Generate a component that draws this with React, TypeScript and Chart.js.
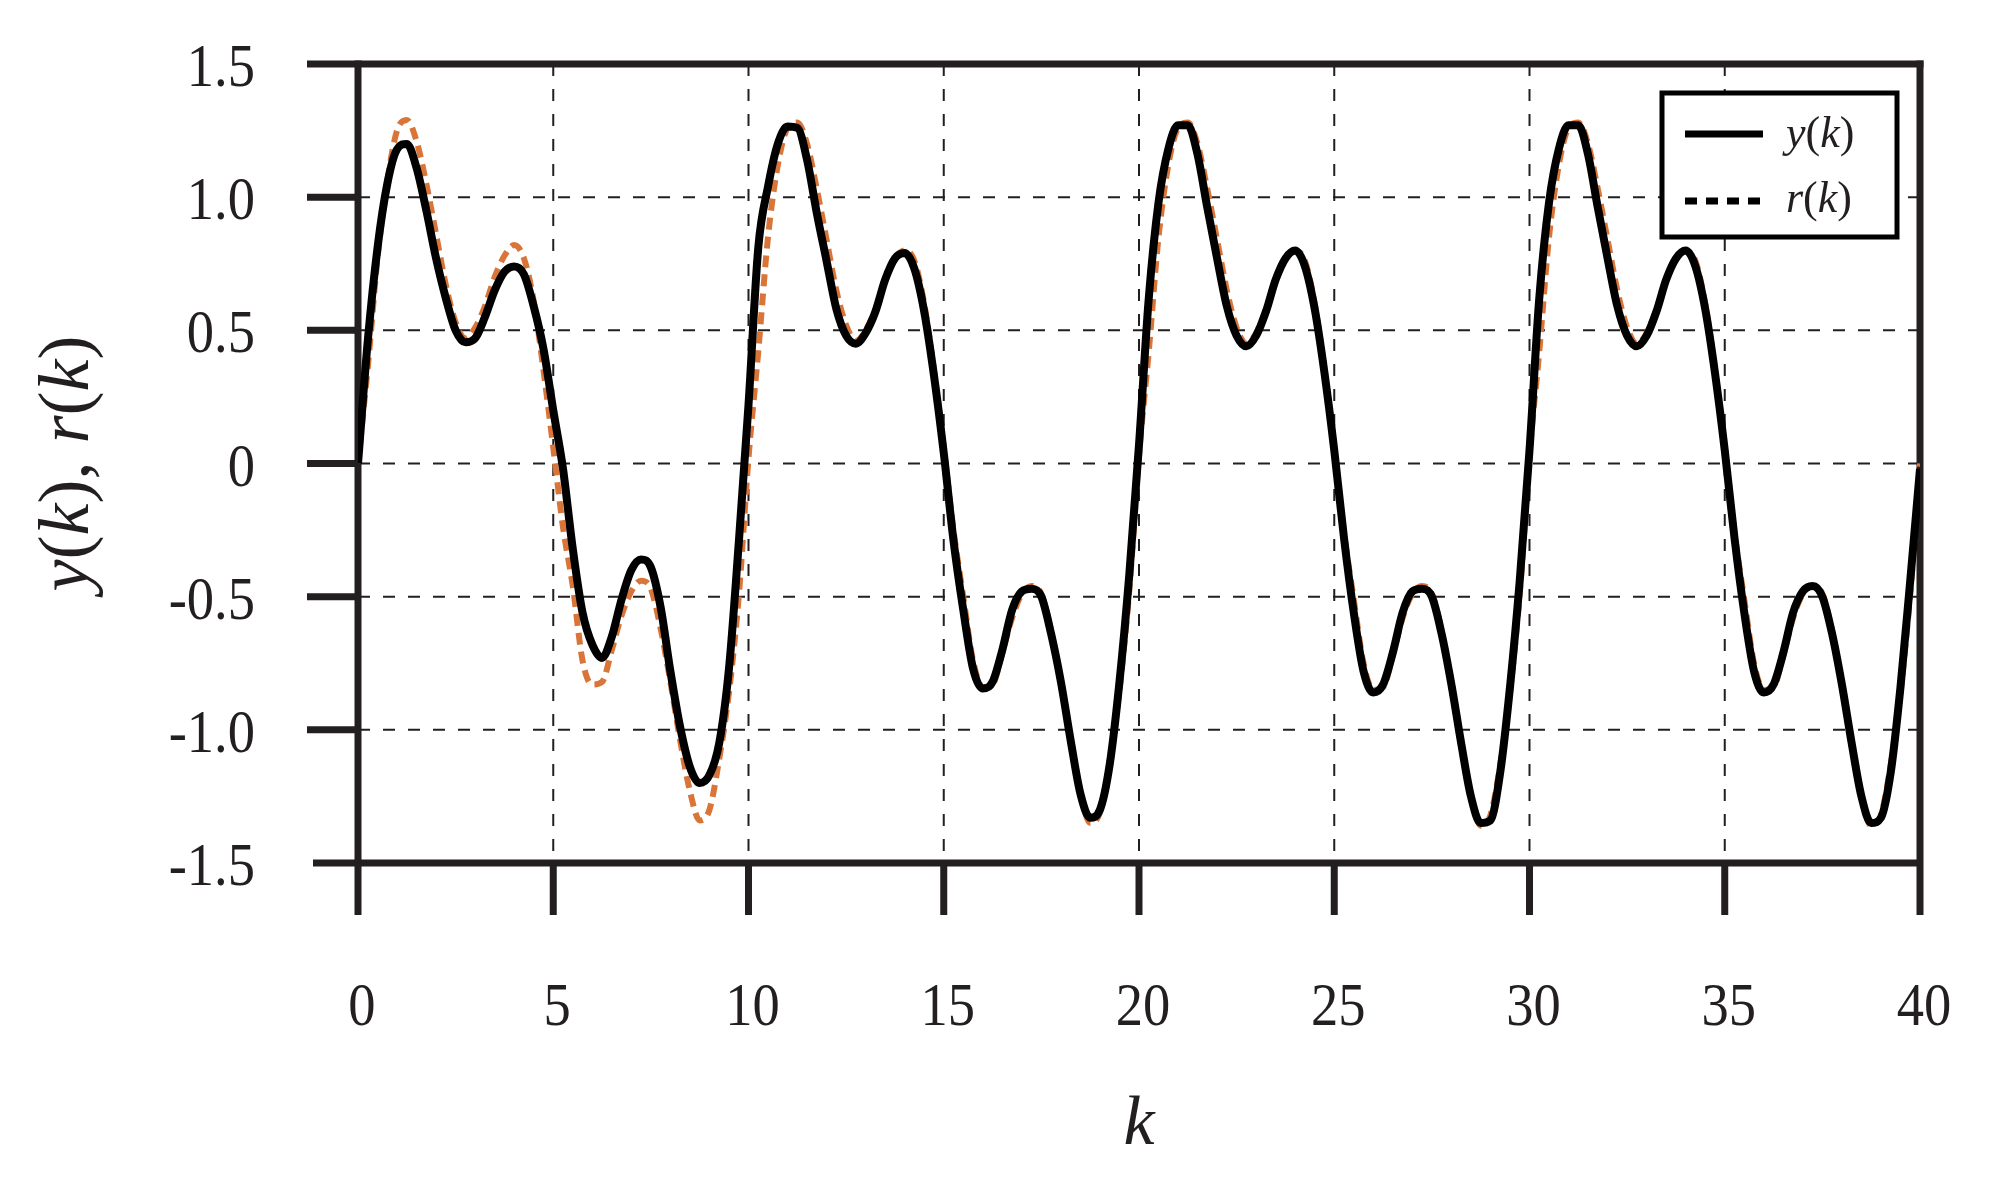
import { useEffect, useRef } from 'react'
import Chart from 'chart.js/auto'

// sampling step of the curves (k units)
const K_STEP = 0.25

// y(k), every 0.25 in k, one array per period
const Y_0_10 = [0, 0.46, 0.81, 1.05, 1.18, 1.2, 1.11, 0.95, 0.77, 0.62, 0.5, 0.455, 0.47, 0.55, 0.65, 0.72, 0.74, 0.71, 0.59, 0.43, 0.2, -0.02, -0.32, -0.56, -0.68, -0.73, -0.65, -0.51, -0.4, -0.36, -0.39, -0.54, -0.78, -0.99, -1.14, -1.2, -1.17, -1.05, -0.77, -0.3]
const Y_10_20 = [0.22, 0.81, 1.04, 1.2, 1.265, 1.26, 1.14, 0.94, 0.76, 0.58, 0.48, 0.45, 0.49, 0.57, 0.69, 0.77, 0.79, 0.73, 0.57, 0.33, 0.04, -0.29, -0.55, -0.77, -0.845, -0.82, -0.7, -0.55, -0.48, -0.47, -0.5, -0.64, -0.82, -1.04, -1.24, -1.33, -1.3, -1.13, -0.82, -0.42]
const Y_20_30 = [0.07, 0.62, 0.98, 1.18, 1.27, 1.27, 1.16, 0.96, 0.77, 0.59, 0.48, 0.44, 0.48, 0.57, 0.69, 0.77, 0.8, 0.74, 0.58, 0.34, 0.05, -0.28, -0.56, -0.78, -0.86, -0.83, -0.71, -0.56, -0.48, -0.47, -0.5, -0.64, -0.83, -1.05, -1.25, -1.35, -1.34, -1.16, -0.84, -0.44]
const Y_30_40 = [0.05, 0.62, 0.98, 1.18, 1.27, 1.27, 1.16, 0.96, 0.77, 0.59, 0.48, 0.44, 0.48, 0.57, 0.69, 0.77, 0.8, 0.74, 0.58, 0.34, 0.05, -0.28, -0.56, -0.78, -0.86, -0.83, -0.71, -0.56, -0.48, -0.46, -0.5, -0.64, -0.83, -1.05, -1.25, -1.35, -1.33, -1.16, -0.84, -0.44, -0.02]

// r(k), same sampling
const R_0_10 = [0, 0.36, 0.77, 1.06, 1.25, 1.29, 1.21, 1.05, 0.86, 0.67, 0.53, 0.47, 0.51, 0.59, 0.7, 0.78, 0.82, 0.77, 0.61, 0.35, 0.06, -0.24, -0.46, -0.74, -0.83, -0.82, -0.7, -0.57, -0.48, -0.44, -0.47, -0.62, -0.82, -1.04, -1.23, -1.34, -1.3, -1.11, -0.86, -0.5]
const R_10_20 = [0.02, 0.42, 0.85, 1.12, 1.26, 1.28, 1.2, 1.03, 0.84, 0.65, 0.52, 0.46, 0.5, 0.58, 0.69, 0.77, 0.8, 0.76, 0.6, 0.35, 0.06, -0.25, -0.5, -0.74, -0.84, -0.83, -0.71, -0.58, -0.49, -0.46, -0.49, -0.63, -0.83, -1.05, -1.24, -1.35, -1.31, -1.12, -0.85, -0.48]
const R_20_30 = [0.03, 0.42, 0.85, 1.12, 1.26, 1.28, 1.2, 1.03, 0.84, 0.65, 0.51, 0.45, 0.49, 0.58, 0.69, 0.77, 0.8, 0.76, 0.6, 0.35, 0.06, -0.26, -0.51, -0.75, -0.85, -0.84, -0.72, -0.58, -0.49, -0.46, -0.49, -0.63, -0.84, -1.06, -1.25, -1.36, -1.32, -1.13, -0.86, -0.49]
const R_30_40 = [0.03, 0.42, 0.85, 1.12, 1.26, 1.28, 1.2, 1.03, 0.84, 0.65, 0.51, 0.45, 0.49, 0.58, 0.69, 0.77, 0.8, 0.76, 0.6, 0.35, 0.06, -0.26, -0.51, -0.75, -0.85, -0.84, -0.72, -0.58, -0.49, -0.46, -0.49, -0.63, -0.84, -1.06, -1.25, -1.36, -1.32, -1.13, -0.86, -0.49, 0]

// axis ticks
const X_TICKS = [0, 5, 10, 15, 20, 25, 30, 35, 40]
const Y_TICKS = [-1.5, -1, -0.5, 0, 0.5, 1, 1.5]
const Y_TICK_LABELS = ['-1.5', '-1.0', '-0.5', '0', '0.5', '1.0', '1.5']
const X_GRID = [5, 10, 15, 20, 25, 30, 35]
const Y_GRID = [-1, -0.5, 0, 0.5, 1]

const INK = '#231f20'
const ORANGE = '#d97539'
const SERIF = '"Liberation Serif", "Times New Roman", serif'

const toPoints = (vals: number[]) => vals.map((v, i) => ({ x: i * K_STEP, y: v }))

type Part = [string, boolean]

// draws text made of upright and italic pieces, starting at x (or centred on it)
function drawRich(ctx: CanvasRenderingContext2D, parts: Part[], x: number, y: number, size: number, center: boolean) {
  const fonts = parts.map(([, it]) => `${it ? 'italic ' : ''}${size}px ${SERIF}`)
  const widths = parts.map(([t], i) => {
    ctx.font = fonts[i]
    return ctx.measureText(t).width
  })
  const total = widths.reduce((a, b) => a + b, 0)
  let cx = center ? x - total / 2 : x
  ctx.textAlign = 'left'
  ctx.textBaseline = 'alphabetic'
  parts.forEach(([t], i) => {
    ctx.font = fonts[i]
    ctx.fillText(t, cx, y)
    cx += widths[i]
  })
}

// tick label, slightly condensed like the original typesetting
function drawLabel(ctx: CanvasRenderingContext2D, text: string, x: number, y: number, align: CanvasTextAlign) {
  ctx.save()
  ctx.translate(x, y)
  ctx.scale(0.88, 1)
  ctx.font = `62px ${SERIF}`
  ctx.textAlign = align
  ctx.textBaseline = 'alphabetic'
  ctx.fillText(text, 0, 0)
  ctx.restore()
}

const framePlugin = {
  id: 'frame',
  beforeDatasetsDraw(chart: any) {
    const { ctx, chartArea: a, scales } = chart
    const line = (x1: number, y1: number, x2: number, y2: number) => {
      ctx.beginPath()
      ctx.moveTo(x1, y1)
      ctx.lineTo(x2, y2)
      ctx.stroke()
    }
    ctx.save()
    ctx.strokeStyle = INK
    ctx.lineCap = 'butt'

    // dashed grid
    ctx.lineWidth = 2
    ctx.setLineDash([12, 13])
    X_GRID.forEach((k) => {
      const px = scales.x.getPixelForValue(k)
      line(px, a.top, px, a.bottom)
    })
    Y_GRID.forEach((v) => {
      const py = scales.y.getPixelForValue(v)
      line(a.left, py, a.right, py)
    })
    ctx.setLineDash([])

    // frame and long outward ticks
    ctx.lineWidth = 7
    line(a.left - 51, a.top, a.right + 3.5, a.top)
    line(a.left - 45, a.bottom, a.right, a.bottom)
    line(a.left, a.top - 3.5, a.left, a.bottom + 52)
    line(a.right, a.top - 3.5, a.right, a.bottom + 52)
    Y_GRID.forEach((v) => {
      const py = scales.y.getPixelForValue(v)
      line(a.left - 51, py, a.left, py)
    })
    X_GRID.forEach((k) => {
      const px = scales.x.getPixelForValue(k)
      line(px, a.bottom, px, a.bottom + 52)
    })

    // tick labels
    ctx.fillStyle = INK
    Y_TICKS.forEach((v, i) => {
      drawLabel(ctx, Y_TICK_LABELS[i], a.left - 103, scales.y.getPixelForValue(v) + 22, 'right')
    })
    X_TICKS.forEach((k) => {
      drawLabel(ctx, String(k), scales.x.getPixelForValue(k) + 4, a.bottom + 162, 'center')
    })
    ctx.restore()
  },
  afterDraw(chart: any) {
    const { ctx, chartArea: a } = chart
    ctx.save()
    ctx.fillStyle = INK

    // axis titles
    drawRich(ctx, [['k', true]], (a.left + a.right) / 2, 1144, 70, true)
    ctx.save()
    ctx.translate(88, (a.top + a.bottom) / 2)
    ctx.rotate(-Math.PI / 2)
    drawRich(ctx, [['y', true], ['(', false], ['k', true], ['), ', false], ['r', true], ['(', false], ['k', true], [')', false]], 0, 0, 72, true)
    ctx.restore()

    // legend box
    const bx = 1662, by = 93, bw = 235, bh = 144
    ctx.fillStyle = '#fff'
    ctx.fillRect(bx, by, bw, bh)
    ctx.strokeStyle = '#000'
    ctx.lineWidth = 5
    ctx.strokeRect(bx, by, bw, bh)

    ctx.lineWidth = 7
    ctx.beginPath()
    ctx.moveTo(1685, 134)
    ctx.lineTo(1763, 134)
    ctx.stroke()
    ctx.setLineDash([12, 9])
    ctx.beginPath()
    ctx.moveTo(1685, 201)
    ctx.lineTo(1763, 201)
    ctx.stroke()
    ctx.setLineDash([])

    ctx.fillStyle = INK
    drawRich(ctx, [['y', true], ['(', false], ['k', true], [')', false]], 1786, 147, 44, false)
    drawRich(ctx, [['r', true], ['(', false], ['k', true], [')', false]], 1786, 212, 44, false)
    ctx.restore()
  },
}

export default function App() {
  const chartRef = useRef<HTMLCanvasElement>(null)

  useEffect(() => {
    if (!chartRef.current) return
    const yData = toPoints([...Y_0_10, ...Y_10_20, ...Y_20_30, ...Y_30_40])
    const rData = toPoints([...R_0_10, ...R_10_20, ...R_20_30, ...R_30_40])

    const chart = new Chart(chartRef.current, {
      type: 'line',
      data: {
        datasets: [
          {
            label: 'y(k)',
            data: yData,
            borderColor: '#000',
            borderWidth: 8,
            pointRadius: 0,
            cubicInterpolationMode: 'monotone',
            fill: false,
          },
          {
            label: 'r(k)',
            data: rData,
            borderColor: ORANGE,
            borderWidth: 6,
            borderDash: [12, 7],
            pointRadius: 0,
            cubicInterpolationMode: 'monotone',
            fill: false,
          },
        ],
      },
      options: {
        responsive: false,
        animation: false,
        layout: { padding: { top: 64, right: 94, left: 0, bottom: 0 } },
        plugins: {
          legend: { display: false },
          tooltip: { enabled: false },
        },
        scales: {
          x: {
            type: 'linear',
            display: true,
            min: 0,
            max: 40,
            grid: { display: false, drawTicks: false },
            border: { display: false },
            ticks: { display: false, stepSize: 5 },
            afterFit: (scale: any) => {
              scale.height = 324
            },
          },
          y: {
            type: 'linear',
            display: true,
            min: -1.5,
            max: 1.5,
            grid: { display: false, drawTicks: false },
            border: { display: false },
            ticks: { display: false, stepSize: 0.5 },
            afterFit: (scale: any) => {
              scale.width = 358
            },
          },
        },
      },
      plugins: [framePlugin],
    })

    return () => chart.destroy()
  }, [])

  return (
    <div style={{ position: 'fixed', left: 0, top: 0, width: 2014, height: 1187, background: '#fff' }}>
      <canvas ref={chartRef} width={2014} height={1187} style={{ display: 'block', width: 2014, height: 1187 }} />
    </div>
  )
}
